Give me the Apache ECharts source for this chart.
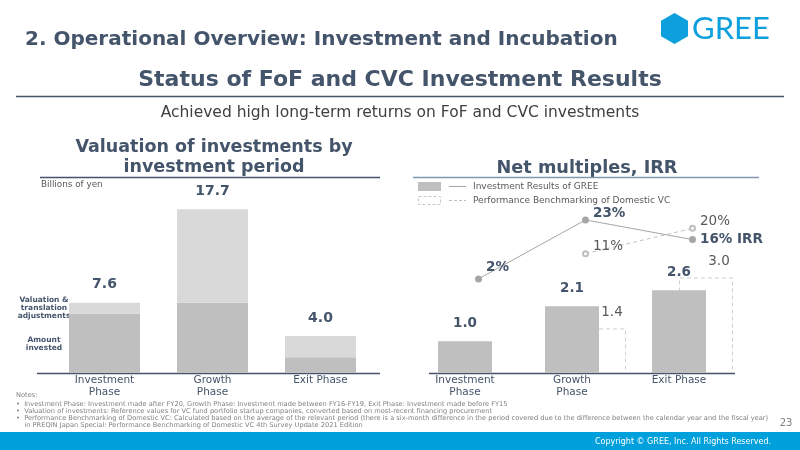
<!DOCTYPE html>
<html>
<head>
<meta charset="utf-8">
<script src="https://cdn.jsdelivr.net/npm/echarts@6/dist/echarts.min.js"></script>
<style>
  html, body { margin: 0; padding: 0; background: #fff; }
  #chart { width: 800px; height: 450px; }
</style>
</head>
<body>
<div id="chart"></div>
<script>
// 数据
var phases = ["Investment\nPhase", "Growth\nPhase", "Exit Phase"];
var investedAmount = [6.4, 7.6, 1.7];
var valuationAdj = [1.2, 10.1, 2.3];
var greeMultiple = [1.0, 2.1, 2.6];
var benchMultiple = ["-", 1.4, 3.0];
var greeIrr = [2, 23, 16];
var benchIrr = ["-", 11, 20];

var FONT = '"DejaVu Sans", Verdana, sans-serif';
var SLATE = "#44546a";
var GREY_TXT = "#595959";

var notes = [
  "\u2022  Investment Phase: Investment made after FY20, Growth Phase: Investment made between FY16-FY19, Exit Phase: Investment made before FY15",
  "\u2022  Valuation of investments: Reference values for VC fund portfolio startup companies, converted based on most-recent financing procurement",
  "\u2022  Performance Benchmarking of Domestic VC: Calculated based on the average of the relevant period (there is a six-month difference in the period covered due to the difference between the calendar year and the fiscal year)",
  "    in PREQIN Japan Special: Performance Benchmarking of Domestic VC 4th Survey Update 2021 Edition",
];

function txt(x, y, text, font, fill, align, valign) {
  return {
    type: "text",
    style: {
      x: x,
      y: y,
      text: text,
      font: font,
      fill: fill,
      textAlign: align || "left",
      textVerticalAlign: valign || "middle",
    },
  };
}
function hline(x1, x2, y, color, w, dash) {
  return {
    type: "line",
    shape: { x1: x1, y1: y, x2: x2, y2: y },
    style: { stroke: color, lineWidth: w || 1, lineDash: dash || null },
  };
}

var graphics = [
  // 页眉
  txt(25, 40, "2. Operational Overview: Investment and Incubation", "bold 20px " + FONT, SLATE),
  {
    type: "polygon",
    shape: { points: [[674.5, 13], [688, 20.8], [688, 36.2], [674.5, 44], [661, 36.2], [661, 20.8]] },
    style: { fill: "#0ea0dc" },
  },
  txt(692, 29, "GREE", "31px Lato, sans-serif", "#0ea0dc"),
  txt(400, 80, "Status of FoF and CVC Investment Results", "bold 22px " + FONT, SLATE, "center"),
  hline(16, 784, 96.5, SLATE, 1.5),
  txt(400, 113, "Achieved high long-term returns on FoF and CVC investments", "15.5px " + FONT, "#404040", "center"),

  // 左图
  txt(214, 147, "Valuation of investments by", "bold 17.5px " + FONT, SLATE, "center"),
  txt(214, 167, "investment period", "bold 17.5px " + FONT, SLATE, "center"),
  hline(40, 380, 177.5, SLATE, 1.5),
  txt(41, 185, "Billions of yen", "8.8px " + FONT, GREY_TXT),
  txt(44, 300, "Valuation &", "bold 7.5px " + FONT, SLATE, "center"),
  txt(44, 308, "translation", "bold 7.5px " + FONT, SLATE, "center"),
  txt(44, 316, "adjustments", "bold 7.5px " + FONT, SLATE, "center"),
  txt(44, 340, "Amount", "bold 7.5px " + FONT, SLATE, "center"),
  txt(44, 348, "invested", "bold 7.5px " + FONT, SLATE, "center"),
  hline(37, 380, 373.5, SLATE, 1.5),

  // 右图
  txt(587, 168, "Net multiples, IRR", "bold 17.7px " + FONT, SLATE, "center"),
  hline(413, 759, 177.5, "#8497b0", 1.5),
  { type: "rect", shape: { x: 418, y: 182, width: 23, height: 9 }, style: { fill: "#bfbfbf" } },
  hline(449, 466, 186.5, "#a6a6a6", 1),
  txt(473, 186.5, "Investment Results of GREE", "9px " + FONT, GREY_TXT),
  {
    type: "rect",
    shape: { x: 418.5, y: 196.5, width: 22, height: 8 },
    style: { fill: "none", stroke: "#c8c8c8", lineWidth: 1, lineDash: [3, 2] },
  },
  hline(449, 466, 200.5, "#bfbfbf", 1, [3, 2]),
  txt(473, 200.5, "Performance Benchmarking of Domestic VC", "9px " + FONT, GREY_TXT),
  hline(429, 735, 373.5, SLATE, 1.5),

  // 页脚
  { type: "rect", shape: { x: 0, y: 432, width: 800, height: 18 }, style: { fill: "#00a0dc" } },
  txt(771, 441.5, "Copyright \u00A9 GREE, Inc. All Rights Reserved.", "8px " + FONT, "#ffffff", "right"),
  txt(786, 423, "23", "10px " + FONT, "#7f7f7f", "center"),
  txt(16, 395, "Notes:", "6.7px " + FONT, "#808080"),
];
notes.forEach(function (n, i) {
  graphics.push(txt(16, 404 + i * 7.2, n, "6.65px " + FONT, "#808080"));
});

var chart = echarts.init(document.getElementById("chart"));

var option = {
  animation: false,
  backgroundColor: "#ffffff",
  grid: [
    { left: 50.5, right: 425.5, top: 188, bottom: 77 },
    { left: 425, right: 54, top: 182, bottom: 77 },
  ],
  xAxis: [
    {
      type: "category",
      gridIndex: 0,
      data: phases,
      axisLine: { show: false },
      axisTick: { show: false },
      axisLabel: { margin: 1, fontSize: 10.5, lineHeight: 12, color: SLATE, fontFamily: FONT },
    },
    {
      type: "category",
      gridIndex: 1,
      data: phases,
      axisLine: { show: false },
      axisTick: { show: false },
      axisLabel: {
        margin: 2,
        fontSize: 10.5,
        lineHeight: 11.5,
        color: SLATE,
        fontFamily: FONT,
        padding: [0, 27, 0, 0],
      },
    },
  ],
  yAxis: [
    { type: "value", gridIndex: 0, min: 0, max: 20, show: false },
    { type: "value", gridIndex: 1, min: 0, max: 6, show: false },
    { type: "value", gridIndex: 1, min: -31.5, max: 36.5, show: false },
  ],
  series: [
    {
      name: "Amount invested",
      type: "bar",
      stack: "val",
      xAxisIndex: 0,
      yAxisIndex: 0,
      barWidth: 71,
      data: investedAmount,
      itemStyle: { color: "#bfbfbf" },
    },
    {
      name: "Valuation & translation adjustments",
      type: "bar",
      stack: "val",
      xAxisIndex: 0,
      yAxisIndex: 0,
      barWidth: 71,
      data: valuationAdj,
      itemStyle: { color: "#d9d9d9" },
      label: {
        show: true,
        position: "top",
        distance: 11,
        fontSize: 14,
        fontWeight: "bold",
        color: SLATE,
        fontFamily: FONT,
        formatter: function (p) {
          return (investedAmount[p.dataIndex] + valuationAdj[p.dataIndex]).toFixed(1);
        },
      },
    },
    {
      name: "Investment Results of GREE",
      type: "bar",
      xAxisIndex: 1,
      yAxisIndex: 1,
      barWidth: 54,
      barGap: "-50%",
      z: 3,
      data: greeMultiple,
      itemStyle: { color: "#bfbfbf" },
      label: {
        show: true,
        position: "top",
        distance: 11,
        fontSize: 13.5,
        fontWeight: "bold",
        color: SLATE,
        fontFamily: FONT,
        formatter: function (p) {
          return p.value.toFixed(1);
        },
      },
    },
    {
      name: "Performance Benchmarking of Domestic VC",
      type: "bar",
      xAxisIndex: 1,
      yAxisIndex: 1,
      barWidth: 54,
      barGap: "-50%",
      z: 2,
      data: benchMultiple,
      itemStyle: {
        color: "rgba(0,0,0,0)",
        borderColor: "#cfcfcf",
        borderWidth: 1,
        borderType: [4, 3],
      },
      label: {
        show: true,
        position: "top",
        distance: 9,
        offset: [13, 0],
        fontSize: 13.5,
        color: GREY_TXT,
        fontFamily: FONT,
        formatter: function (p) {
          return p.value.toFixed(1);
        },
      },
    },
    {
      name: "IRR benchmark",
      type: "line",
      xAxisIndex: 1,
      yAxisIndex: 2,
      z: 4,
      data: benchIrr,
      symbol: "emptyCircle",
      symbolSize: 5,
      lineStyle: { color: "#c4c4c4", width: 1, type: [4, 3] },
      itemStyle: { color: "#bfbfbf" },
      label: {
        show: true,
        position: "right",
        distance: 4,
        offset: [0, -7],
        fontSize: 13.5,
        color: GREY_TXT,
        fontFamily: FONT,
        formatter: "{c}%",
      },
    },
    {
      name: "IRR GREE",
      type: "line",
      xAxisIndex: 1,
      yAxisIndex: 2,
      z: 5,
      data: greeIrr.map(function (v, i) {
        var dy = [-11, -6, 0][i];
        return {
          value: v,
          label: {
            offset: [0, dy],
            formatter: i === greeIrr.length - 1 ? "{c}% IRR" : "{c}%",
          },
        };
      }),
      symbol: "circle",
      symbolSize: 7,
      lineStyle: { color: "#a6a6a6", width: 1 },
      itemStyle: { color: "#a6a6a6" },
      label: {
        show: true,
        position: "right",
        distance: 4,
        fontSize: 13.5,
        fontWeight: "bold",
        color: SLATE,
        fontFamily: FONT,
      },
    },
  ],
  graphic: graphics,
};

chart.setOption(option);
</script>
</body>
</html>
